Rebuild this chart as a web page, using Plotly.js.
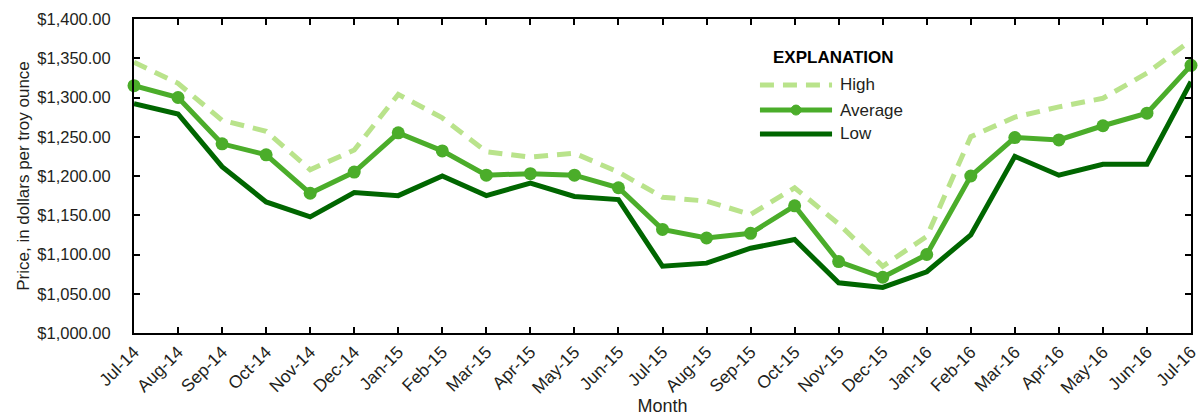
<!DOCTYPE html>
<html>
<head>
<meta charset="utf-8">
<script src="https://cdn.plot.ly/plotly-3.0.1.min.js"></script>
<style>html,body{margin:0;padding:0;background:#fff;}#chart{width:1199px;height:416px;}</style>
</head>
<body>
<div id="chart"></div>
<script>
const months = ["Jul-14","Aug-14","Sep-14","Oct-14","Nov-14","Dec-14","Jan-15","Feb-15","Mar-15","Apr-15","May-15","Jun-15","Jul-15","Aug-15","Sep-15","Oct-15","Nov-15","Dec-15","Jan-16","Feb-16","Mar-16","Apr-16","May-16","Jun-16","Jul-16"];
const high = [1345,1318,1271,1257,1208,1233,1304,1274,1231,1224,1229,1205,1173,1168,1151,1185,1139,1085,1123,1250,1275,1288,1299,1331,1373];
const average = [1315,1300,1241,1227,1178,1205,1255,1232,1201,1203,1201,1185,1132,1121,1127,1162,1091,1071,1100,1200,1249,1246,1264,1280,1341];
const low = [1292,1279,1212,1167,1148,1179,1175,1200,1175,1191,1174,1170,1085,1089,1108,1119,1064,1058,1078,1125,1225,1201,1215,1215,1320];
const yTicks = [1000,1050,1100,1150,1200,1250,1300,1350,1400];
const yTickText = yTicks.map(v => "$" + v.toLocaleString("en-US", {minimumFractionDigits: 2, maximumFractionDigits: 2}));

const cHigh = "#b9e38b", cAvg = "#4bad2a", cLow = "#006600";
const FONT = "'Liberation Sans', Arial, sans-serif";
const txt = "#231f20";

const traces = [
  {x: months, y: high, name: "High", type: "scatter", mode: "lines",
   line: {color: cHigh, width: 5, dash: "14px,9px"}, cliponaxis: false},
  {x: months, y: average, name: "Average", type: "scatter", mode: "lines+markers",
   line: {color: cAvg, width: 5}, marker: {color: cAvg, size: 13}, cliponaxis: false},
  {x: months, y: low, name: "Low", type: "scatter", mode: "lines",
   line: {color: cLow, width: 5}, cliponaxis: false}
];

// legend built in paper coordinates
const lx0 = 0.5922, lx1 = 0.6604, ltx = 0.6665;
const ly = [0.790, 0.710, 0.634];
const legendNames = ["High", "Average", "Low"];
const shapes = [
  {type: "line", xref: "paper", yref: "paper", x0: lx0, x1: lx1, y0: ly[0], y1: ly[0], line: {color: cHigh, width: 5, dash: "14px,9px"}},
  {type: "line", xref: "paper", yref: "paper", x0: lx0, x1: lx1, y0: ly[1], y1: ly[1], line: {color: cAvg, width: 5}},
  {type: "line", xref: "paper", yref: "paper", x0: lx0, x1: lx1, y0: ly[2], y1: ly[2], line: {color: cLow, width: 5}},
  {type: "circle", xref: "paper", yref: "paper", xsizemode: "pixel", ysizemode: "pixel",
   xanchor: (lx0 + lx1) / 2, yanchor: ly[1], x0: -5, x1: 5, y0: -5, y1: 5,
   fillcolor: cAvg, line: {color: cAvg, width: 1}}
];
const annotations = [
  {xref: "paper", yref: "paper", x: 0.662, y: 0.876, text: "<b>EXPLANATION</b>", showarrow: false,
   xanchor: "center", yanchor: "middle", font: {family: FONT, size: 17, color: "#000"}}
];
legendNames.forEach((n, i) => annotations.push({
  xref: "paper", yref: "paper", x: ltx, y: ly[i], text: n, showarrow: false,
  xanchor: "left", yanchor: "middle", font: {family: FONT, size: 17, color: txt}
}));

const layout = {
  width: 1199, height: 416,
  margin: {l: 134, r: 8, t: 19, b: 83},
  paper_bgcolor: "#fff", plot_bgcolor: "#fff",
  showlegend: false,
  font: {family: FONT, size: 16, color: txt},
  xaxis: {
    type: "category", range: [0, months.length - 1],
    tickangle: -45, ticks: "inside", ticklen: 6, tickwidth: 2, tickcolor: "#000",
    showline: true, linecolor: "#000", linewidth: 2, mirror: "ticks",
    showgrid: false, zeroline: false,
    tickfont: {family: FONT, size: 17.5, color: txt},
    title: {text: "Month", font: {family: FONT, size: 18, color: txt}, standoff: 2}
  },
  yaxis: {
    range: [1000, 1400], tickvals: yTicks, ticktext: yTickText,
    ticks: "inside", ticklen: 6, tickwidth: 2, tickcolor: "#000",
    ticklabelstandoff: 18,
    showline: true, linecolor: "#000", linewidth: 2, mirror: "ticks",
    showgrid: false, zeroline: false,
    tickfont: {family: FONT, size: 16.5, color: txt},
    title: {text: "Price, in dollars per troy ounce", font: {family: FONT, size: 17, color: txt}, standoff: 3}
  },
  shapes: shapes,
  annotations: annotations
};

Plotly.newPlot("chart", traces, layout, {staticPlot: true, displayModeBar: false});
</script>
</body>
</html>
